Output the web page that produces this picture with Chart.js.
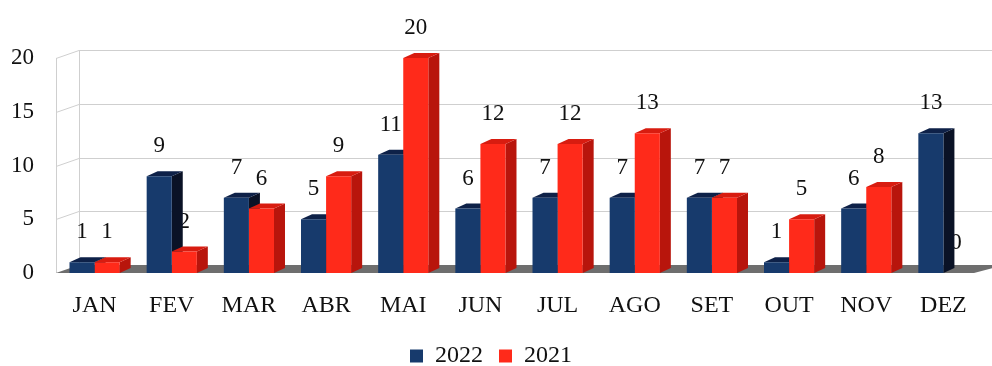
<!DOCTYPE html>
<html>
<head>
<meta charset="utf-8">
<script src="https://cdn.jsdelivr.net/npm/chart.js@4.4.0/dist/chart.umd.min.js"></script>
<style>
  body { margin: 0; background: #fff; }
  #wrap { width: 992px; height: 366px; }
</style>
</head>
<body>
<div id="wrap"><canvas id="graficoMeses"></canvas></div>
<script>
const meses = ['JAN', 'FEV', 'MAR', 'ABR', 'MAI', 'JUN', 'JUL', 'AGO', 'SET', 'OUT', 'NOV', 'DEZ']
const valores2022 = [1, 9, 7, 5, 11, 6, 7, 7, 7, 1, 6, 13]
const valores2021 = [1, 2, 6, 9, 20, 12, 12, 13, 7, 5, 8, 0]
const ticksY = [0, 5, 10, 15, 20]

const fonte = '"Liberation Serif", "Times New Roman", serif'
const corTexto = '#111'

// profundidade da "caixa" (parede do fundo) e das barras
const PAREDE_X = 23, PAREDE_Y = -8
const BARRA_X = 11, BARRA_Y = -5

const cores = {
  '2022': { frente: '#173a6c', lado: '#0a1226', topo: '#0e2148' },
  '2021': { frente: '#ff2a1a', lado: '#b8150c', topo: '#d81c10' },
}

function poligono(ctx, pts, cor) {
  ctx.beginPath()
  ctx.moveTo(pts[0][0], pts[0][1])
  for (let i = 1; i < pts.length; i++) ctx.lineTo(pts[i][0], pts[i][1])
  ctx.closePath()
  ctx.fillStyle = cor
  ctx.fill()
}

const efeito3d = {
  id: 'efeito3d',
  beforeDatasetsDraw(chart) {
    const ctx = chart.ctx
    const { left, right } = chart.chartArea
    const y = chart.scales.y
    const y0 = y.getPixelForValue(0)
    const yMax = y.getPixelForValue(ticksY[ticksY.length - 1])

    ctx.save()
    ctx.strokeStyle = '#cfcfcf'
    ctx.lineWidth = 1

    // parede do fundo e parede lateral
    ticksY.forEach((v) => {
      if (v === 0) return
      const py = Math.round(y.getPixelForValue(v)) + 0.5
      ctx.beginPath()
      ctx.moveTo(left + PAREDE_X, py + PAREDE_Y)
      ctx.lineTo(right + PAREDE_X, py + PAREDE_Y)
      ctx.moveTo(left, py)
      ctx.lineTo(left + PAREDE_X, py + PAREDE_Y)
      ctx.stroke()
    })
    ctx.beginPath()
    ctx.moveTo(left + PAREDE_X + 0.5, yMax + PAREDE_Y)
    ctx.lineTo(left + PAREDE_X + 0.5, y0 + PAREDE_Y)
    ctx.moveTo(left + 0.5, yMax)
    ctx.lineTo(left + 0.5, y0)
    ctx.stroke()

    // piso
    poligono(ctx, [[left, y0], [left + PAREDE_X, y0 + PAREDE_Y], [right + PAREDE_X, y0 + PAREDE_Y], [right - 8, y0]], '#6e6e6e')

    // rótulos de valor (ficam atrás das barras)
    ctx.font = '23px ' + fonte
    ctx.fillStyle = corTexto
    ctx.textAlign = 'center'
    ctx.textBaseline = 'middle'
    chart.data.datasets.forEach((ds, i) => {
      chart.getDatasetMeta(i).data.forEach((barra, j) => {
        const p = barra.getProps(['x', 'y'], true)
        ctx.fillText(String(ds.data[j]), p.x, p.y - 30)
      })
    })

    // faces laterais e superiores das barras
    chart.data.datasets.forEach((ds, i) => {
      const c = cores[ds.label]
      chart.getDatasetMeta(i).data.forEach((barra, j) => {
        if (!ds.data[j]) return
        const p = barra.getProps(['x', 'y', 'base', 'width'], true)
        const x1 = p.x - p.width / 2, x2 = p.x + p.width / 2
        poligono(ctx, [[x2, p.y], [x2 + BARRA_X, p.y + BARRA_Y], [x2 + BARRA_X, p.base + BARRA_Y], [x2, p.base]], c.lado)
        poligono(ctx, [[x1, p.y], [x1 + BARRA_X, p.y + BARRA_Y], [x2 + BARRA_X, p.y + BARRA_Y], [x2, p.y]], c.topo)
      })
    })
    ctx.restore()
  },
}

new Chart(document.getElementById('graficoMeses'), {
  type: 'bar',
  data: {
    labels: meses,
    datasets: [
      { label: '2022', data: valores2022, backgroundColor: cores['2022'].frente },
      { label: '2021', data: valores2021, backgroundColor: cores['2021'].frente },
    ],
  },
  options: {
    responsive: true,
    maintainAspectRatio: false,
    animation: false,
    layout: { padding: { top: 58, right: 10, left: 0, bottom: -12 } },
    datasets: { bar: { categoryPercentage: 0.65, barPercentage: 1.0 } },
    plugins: {
      tooltip: { enabled: false },
      legend: {
        position: 'bottom',
        labels: {
          boxWidth: 13,
          boxHeight: 13,
          padding: 16,
          color: corTexto,
          font: { family: fonte, size: 24 },
        },
      },
    },
    scales: {
      x: {
        grid: { display: false, drawTicks: false },
        border: { display: false },
        ticks: { color: corTexto, font: { family: fonte, size: 24 }, padding: 18 },
        afterFit(scale) { scale.height = 55 },
      },
      y: {
        min: 0,
        max: 20,
        grid: { display: false, drawTicks: false },
        border: { display: false },
        ticks: { stepSize: 5, color: corTexto, font: { family: fonte, size: 23 }, padding: 22 },
        afterFit(scale) { scale.width = 56 },
      },
    },
  },
  plugins: [efeito3d],
})
</script>
</body>
</html>
